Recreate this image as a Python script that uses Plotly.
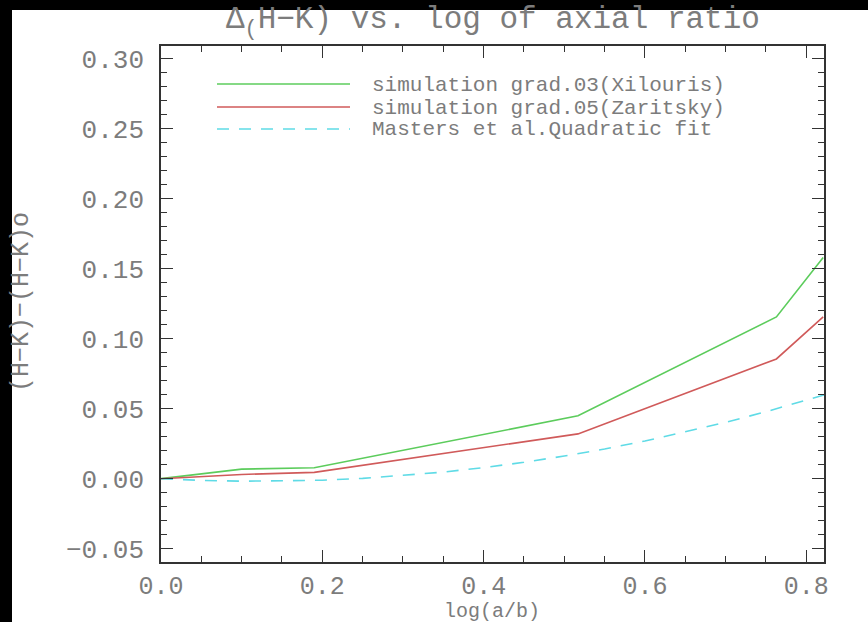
import plotly.graph_objects as go

# ---- data ----
sim_x = [0.0, 0.10, 0.19, 0.517, 0.763, 0.821]
xilouris_y = [0.0, 0.0068, 0.0078, 0.0449, 0.1155, 0.158]
zaritsky_y = [0.0, 0.0030, 0.0045, 0.0320, 0.0855, 0.1155]

masters_x = [0.0, 0.05, 0.10, 0.15, 0.20, 0.25, 0.30, 0.35, 0.40, 0.45,
             0.50, 0.55, 0.60, 0.65, 0.70, 0.75, 0.80, 0.822]
masters_y = [0.0, -0.0012, -0.0018, -0.0017, -0.0011, 0.0002, 0.0022, 0.0047,
             0.0079, 0.0117, 0.0162, 0.0212, 0.0269, 0.0333, 0.0402, 0.0478,
             0.0560, 0.0598]

legend_labels = ["simulation grad.03(Xilouris)",
                 "simulation grad.05(Zaritsky)",
                 "Masters et al.Quadratic fit"]
colors = ["#5ccc5c", "#d05a5a", "#5fdbe6"]
dashes = ["solid", "solid", "12px,10px"]

x_major = [0.0, 0.2, 0.4, 0.6, 0.8]
x_minor = [round(0.05 * i, 2) for i in range(17)]
y_major = [-0.05, 0.0, 0.05, 0.10, 0.15, 0.20, 0.25, 0.30]
y_minor = [round(-0.05 + 0.01 * i, 2) for i in range(36)]

title_text = "Δ<sub>(</sub>H−K) vs. log of axial ratio"
xtitle = "log(a/b)"
ytitle = "(H−K)−(H−K)o"

FONT = "Liberation Mono"
TXT = "#7c7c7c"
AX = "#333333"

W, H = 868, 622
L, R, T, B = 161, 44, 46, 60
pw, ph = W - L - R, H - T - B
XR = [0, 0.822]
YR = [-0.0595, 0.309]

def px(xp):
    return (xp - L) / pw

def py(yp):
    return (H - B - yp) / ph

fig = go.Figure()
series = [(sim_x, xilouris_y), (sim_x, zaritsky_y), (masters_x, masters_y)]
for (xs, ys), c, d, name in zip(series, colors, dashes, legend_labels):
    fig.add_trace(go.Scatter(x=xs, y=ys, mode="lines", name=name,
                             line=dict(color=c, width=1.6, dash=d),
                             showlegend=False))
# invisible trace to anchor the overlay (minor tick) axes
fig.add_trace(go.Scatter(x=[XR[0]], y=[YR[0]], xaxis="x2", yaxis="y2",
                         mode="markers", marker=dict(opacity=0),
                         hoverinfo="skip", showlegend=False))

shapes = [dict(type="rect", xref="paper", yref="paper",
               x0=px(12), x1=px(W + 5), y0=py(H + 5), y1=py(10),
               fillcolor="white", line=dict(width=0), layer="below")]
annotations = []
leg_y = [84, 107, 129]
for ly, c, d, lab in zip(leg_y, colors, dashes, legend_labels):
    shapes.append(dict(type="line", xref="paper", yref="paper",
                       x0=px(217), x1=px(350), y0=py(ly), y1=py(ly),
                       line=dict(color=c, width=1.6, dash=d)))
    annotations.append(dict(text=lab, xref="paper", yref="paper",
                            x=px(370), y=py(ly + 1), xanchor="left",
                            yanchor="middle", showarrow=False,
                            font=dict(family=FONT, size=21, color=TXT)))

annotations.append(dict(text=title_text, xref="paper", yref="paper",
                        x=0.5, y=py(22), xanchor="center", yanchor="middle",
                        showarrow=False,
                        font=dict(family=FONT, size=31, color=TXT)))
annotations.append(dict(text=xtitle, xref="paper", yref="paper",
                        x=px(492), y=py(611), xanchor="center", yanchor="middle",
                        showarrow=False,
                        font=dict(family=FONT, size=20, color=TXT)))
annotations.append(dict(text=ytitle, xref="paper", yref="paper",
                        x=px(21), y=py(302), xanchor="center", yanchor="middle",
                        textangle=-90, showarrow=False,
                        font=dict(family=FONT, size=25, color=TXT)))

axis_common = dict(showline=True, linecolor=AX, linewidth=1.6, mirror="allticks",
                   ticks="inside", tickcolor=AX, tickwidth=1.4, ticklen=12,
                   showgrid=False, zeroline=False)

minor_common = dict(ticks="inside", ticklen=6, tickwidth=1.2, tickcolor=AX,
                    showticklabels=False, showline=False, mirror="allticks",
                    showgrid=False, zeroline=False, tickmode="array")

fig.update_layout(
    xaxis=dict(range=XR, tickmode="array", tickvals=x_major,
               ticktext=[f"{v:.1f}" for v in x_major],
               tickfont=dict(family=FONT, size=25, color=TXT),
               ticklabelstandoff=0, **axis_common),
    yaxis=dict(range=YR, tickmode="array", tickvals=y_major,
               ticktext=[f"{v:.2f}".replace("-", "−") for v in y_major],
               tickfont=dict(family=FONT, size=26, color=TXT),
               ticklabelstandoff=10, **axis_common),
    xaxis2=dict(range=XR, overlaying="x", anchor="y2", side="bottom",
                tickvals=x_minor, **minor_common),
    yaxis2=dict(range=YR, overlaying="y", anchor="x2", side="left",
                tickvals=y_minor, **minor_common),
    width=W, height=H, margin=dict(l=L, r=R, t=T, b=B),
    paper_bgcolor="black", plot_bgcolor="white",
    shapes=shapes, annotations=annotations, showlegend=False)

fig.write_html("out.html")
